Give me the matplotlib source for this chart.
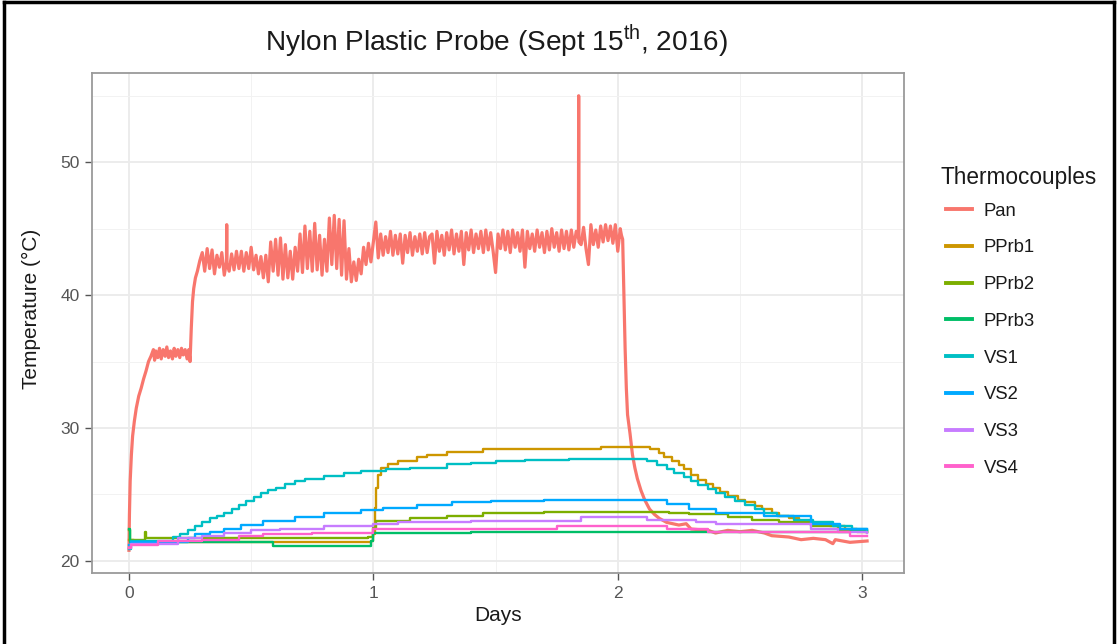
import matplotlib
matplotlib.use("Agg")
import matplotlib.pyplot as plt
from matplotlib.lines import Line2D

plt.rcParams['font.family'] = ['Liberation Sans', 'DejaVu Sans']
plt.rcParams['mathtext.fontset'] = 'custom'
plt.rcParams['mathtext.rm'] = 'Liberation Sans'

# (days, temperature degC)
pan = [
    (0.000, 20.8), (0.002, 23.5), (0.005, 26.0), (0.010, 28.0), (0.015, 29.4),
    (0.022, 30.5), (0.030, 31.5), (0.040, 32.4), (0.050, 33.0), (0.060, 33.7),
    (0.070, 34.3), (0.080, 35.0), (0.090, 35.4),
    (0.100, 35.9), (0.105, 35.1), (0.110, 35.8), (0.118, 35.3), (0.125, 36.0),
    (0.132, 35.2), (0.140, 35.9), (0.148, 35.4), (0.155, 36.1), (0.162, 35.3),
    (0.170, 35.8), (0.178, 35.2), (0.185, 36.0), (0.192, 35.4), (0.200, 35.9),
    (0.208, 35.3), (0.215, 36.0), (0.222, 35.5), (0.230, 35.9), (0.238, 35.2),
    (0.245, 35.9), (0.250, 35.0),
    (0.255, 37.5), (0.260, 39.5), (0.265, 40.5), (0.272, 41.3), (0.280, 41.8),
    (0.290, 42.6),
    (0.30, 43.2), (0.31, 41.8), (0.32, 43.5), (0.33, 42.0), (0.34, 43.4),
    (0.35, 41.6), (0.36, 43.0), (0.37, 42.1), (0.38, 43.2), (0.39, 41.5),
    (0.399, 42.5), (0.400, 45.3), (0.401, 42.4),
    (0.41, 41.8), (0.42, 43.1), (0.43, 41.9), (0.44, 43.3), (0.45, 42.0),
    (0.46, 43.3), (0.47, 41.8), (0.48, 43.2), (0.49, 42.0), (0.50, 43.6),
    (0.51, 41.9), (0.52, 43.0), (0.53, 41.6), (0.54, 42.9), (0.55, 41.3),
    (0.56, 43.0), (0.57, 41.0), (0.58, 44.0), (0.59, 41.8), (0.60, 44.2),
    (0.61, 41.5), (0.62, 44.3), (0.63, 41.2), (0.64, 43.8), (0.65, 41.3),
    (0.66, 43.3), (0.67, 41.2), (0.68, 43.6), (0.69, 41.8), (0.70, 44.6),
    (0.71, 41.7), (0.72, 45.2), (0.73, 42.0), (0.74, 44.8), (0.75, 41.8),
    (0.76, 45.4), (0.77, 41.9), (0.78, 44.5), (0.79, 41.5), (0.80, 44.2),
    (0.81, 41.8), (0.82, 45.8), (0.83, 42.3), (0.84, 46.0), (0.85, 42.0),
    (0.86, 45.7), (0.87, 41.5), (0.88, 45.6), (0.89, 41.2), (0.90, 43.5),
    (0.91, 41.0), (0.92, 42.5), (0.93, 41.1), (0.94, 42.7), (0.95, 41.6),
    (0.96, 43.6), (0.97, 42.3), (0.98, 43.9), (0.99, 42.5), (1.00, 44.0),
    (1.01, 45.5), (1.02, 42.8), (1.03, 44.6), (1.04, 43.0), (1.05, 44.4),
    (1.06, 43.2), (1.07, 44.8), (1.08, 43.0), (1.09, 44.5), (1.10, 43.1),
    (1.11, 44.6), (1.12, 42.4), (1.13, 44.5), (1.14, 43.2), (1.15, 44.7),
    (1.16, 43.0), (1.17, 44.4), (1.18, 43.3), (1.19, 44.6), (1.20, 43.1),
    (1.21, 44.7), (1.22, 43.2), (1.23, 44.4), (1.24, 44.6), (1.25, 42.4),
    (1.26, 44.8), (1.27, 43.3), (1.28, 44.5), (1.29, 43.0), (1.30, 44.7),
    (1.31, 43.4), (1.32, 44.9), (1.33, 43.1), (1.34, 44.6), (1.35, 43.3),
    (1.36, 44.8), (1.37, 42.3), (1.38, 44.7), (1.39, 43.4), (1.40, 44.9),
    (1.41, 43.2), (1.42, 44.6), (1.43, 43.5), (1.44, 44.8), (1.45, 43.2),
    (1.46, 44.9), (1.47, 43.4), (1.48, 44.7), (1.49, 43.3), (1.50, 41.7),
    (1.51, 44.6), (1.52, 43.5), (1.53, 44.9), (1.54, 43.4), (1.55, 44.8),
    (1.56, 43.2), (1.57, 44.9), (1.58, 43.6), (1.59, 44.7), (1.60, 43.3),
    (1.61, 44.9), (1.62, 42.1), (1.63, 44.8), (1.64, 43.5), (1.65, 44.6),
    (1.66, 43.3), (1.67, 44.9), (1.68, 43.6), (1.69, 44.7), (1.70, 43.2),
    (1.71, 44.8), (1.72, 43.4), (1.73, 45.0), (1.74, 43.6), (1.75, 44.7),
    (1.76, 43.3), (1.77, 44.9), (1.78, 43.5), (1.79, 44.8), (1.80, 43.4),
    (1.81, 44.9), (1.82, 43.6), (1.83, 44.8), (1.839, 44.3), (1.840, 55.0),
    (1.841, 44.0), (1.85, 43.8), (1.86, 45.1), (1.87, 43.5), (1.88, 42.3),
    (1.89, 45.3), (1.90, 43.8), (1.91, 44.9), (1.92, 43.6), (1.93, 45.2),
    (1.94, 44.0), (1.95, 45.3), (1.96, 44.1), (1.97, 45.2), (1.98, 43.9),
    (1.99, 45.3), (2.00, 43.3), (2.01, 45.0), (2.015, 44.5), (2.020, 44.2),
    (2.025, 40.0), (2.030, 36.0), (2.035, 33.0), (2.040, 31.0), (2.050, 29.6),
    (2.060, 28.0), (2.070, 27.0), (2.080, 26.2), (2.095, 25.3), (2.110, 24.6),
    (2.130, 23.9), (2.150, 23.5), (2.170, 23.2), (2.200, 22.9), (2.250, 22.7),
    (2.280, 22.8), (2.300, 22.4), (2.370, 22.3), (2.400, 22.1), (2.450, 22.3),
    (2.500, 22.2), (2.550, 22.3), (2.600, 22.1), (2.630, 21.9), (2.700, 21.8),
    (2.750, 21.6), (2.800, 21.7), (2.850, 21.6), (2.880, 21.3), (2.890, 21.6),
    (2.950, 21.4), (3.020, 21.5),
]

pprb1 = [
    (0.00, 21.6), (0.02, 21.4), (0.99, 21.5), (1.000, 22.0), (1.005, 24.0),
    (1.010, 25.5), (1.020, 26.5), (1.030, 27.0), (1.06, 27.3), (1.10, 27.5),
    (1.18, 27.8), (1.22, 28.0), (1.30, 28.2), (1.45, 28.4), (1.93, 28.6),
    (2.13, 28.4), (2.17, 28.1), (2.19, 27.8), (2.22, 27.5), (2.25, 27.2),
    (2.27, 26.9), (2.30, 26.5), (2.33, 26.1), (2.36, 25.8), (2.39, 25.5),
    (2.42, 25.2), (2.45, 24.9), (2.49, 24.6), (2.52, 24.4), (2.56, 24.1),
    (2.59, 23.9), (2.63, 23.6), (2.66, 23.4), (2.70, 23.2), (2.74, 23.0),
    (2.80, 22.8), (2.87, 22.6), (2.93, 22.4), (2.98, 22.2), (3.02, 22.2),
]

pprb2 = [
    (0.00, 22.3), (0.005, 21.6), (0.065, 22.2), (0.07, 21.7), (0.98, 21.8),
    (1.00, 22.5), (1.01, 23.0), (1.15, 23.2), (1.30, 23.4), (1.45, 23.6),
    (1.70, 23.7), (2.21, 23.6), (2.29, 23.5), (2.45, 23.3), (2.55, 23.1),
    (2.66, 22.9), (2.79, 22.6), (2.90, 22.3), (3.02, 22.2),
]

pprb3 = [
    (0.00, 22.4), (0.005, 21.4), (0.57, 21.4), (0.59, 21.1), (0.98, 21.1),
    (0.99, 21.5), (1.00, 22.1), (1.40, 22.2), (2.95, 22.3), (3.02, 22.2),
]

vs1 = [
    (0.00, 20.9), (0.01, 21.5), (0.18, 21.8), (0.21, 22.0), (0.24, 22.3),
    (0.27, 22.6), (0.30, 22.9), (0.33, 23.2), (0.36, 23.4), (0.39, 23.6),
    (0.42, 23.9), (0.45, 24.2), (0.48, 24.5), (0.51, 24.8), (0.54, 25.1),
    (0.57, 25.3), (0.60, 25.5), (0.64, 25.8), (0.68, 26.0), (0.72, 26.2),
    (0.80, 26.4), (0.88, 26.6), (0.95, 26.8), (1.05, 26.9), (1.15, 27.0),
    (1.30, 27.3), (1.40, 27.4), (1.50, 27.5), (1.62, 27.6), (1.80, 27.7),
    (2.12, 27.5), (2.16, 27.2), (2.20, 26.9), (2.23, 26.6), (2.27, 26.3),
    (2.30, 26.0), (2.33, 25.7), (2.37, 25.4), (2.40, 25.1), (2.44, 24.8),
    (2.48, 24.5), (2.52, 24.2), (2.56, 23.9), (2.60, 23.6), (2.65, 23.4),
    (2.72, 23.1), (2.80, 22.9), (2.88, 22.6), (2.96, 22.4), (3.02, 22.3),
]

vs2 = [
    (0.00, 21.2), (0.01, 21.4), (0.24, 21.7), (0.27, 22.0), (0.33, 22.2),
    (0.39, 22.4), (0.46, 22.7), (0.55, 23.0), (0.68, 23.3), (0.80, 23.6),
    (0.95, 23.8), (1.04, 24.0), (1.18, 24.2), (1.32, 24.4), (1.48, 24.5),
    (1.70, 24.6), (2.20, 24.3), (2.29, 23.9), (2.40, 23.6), (2.60, 23.4),
    (2.79, 22.8), (2.91, 22.4), (3.02, 22.4),
]

vs3 = [
    (0.00, 21.0), (0.01, 21.3), (0.20, 21.7), (0.30, 21.9), (0.39, 22.1),
    (0.50, 22.3), (0.62, 22.4), (0.80, 22.6), (1.00, 22.8), (1.10, 22.9),
    (1.40, 23.0), (1.85, 23.3), (2.12, 23.1), (2.32, 22.9), (2.40, 22.75),
    (2.79, 22.4), (2.90, 22.2), (3.02, 22.1),
]

vs4 = [
    (0.00, 21.0), (0.01, 21.2), (0.12, 21.5), (0.30, 21.6), (0.45, 21.9),
    (0.55, 22.0), (0.75, 22.1), (1.00, 22.4), (1.75, 22.6), (2.20, 22.4),
    (2.37, 22.2), (2.95, 21.9), (3.02, 21.9),
]

names = ['Pan', 'PPrb1', 'PPrb2', 'PPrb3', 'VS1', 'VS2', 'VS3', 'VS4']
series = [pan, pprb1, pprb2, pprb3, vs1, vs2, vs3, vs4]
colors = ['#F8766D', '#CD9600', '#7CAE00', '#00BE67',
          '#00BFC4', '#00A9FF', '#C77CFF', '#FF61CC']

fig = plt.figure(figsize=(11.17, 6.44), dpi=100)
ax = fig.add_axes([0.0824, 0.1102, 0.7269, 0.7764])

for name, data, col in zip(names, series, colors):
    d, t = zip(*data)
    if name == 'Pan':
        ax.plot(d, t, color=col, lw=2.3)
    else:
        ax.step(d, t, where='post', color=col, lw=1.7)

ax.set_xlim(-0.151, 3.171)
ax.set_ylim(19.09, 56.71)
ax.set_xticks([0, 1, 2, 3])
ax.set_xticks([0.5, 1.5, 2.5], minor=True)
ax.set_yticks([20, 30, 40, 50])
ax.set_yticks([25, 35, 45, 55], minor=True)
ax.grid(which='major', color='#EBEBEB', lw=1.3)
ax.grid(which='minor', color='#F2F2F2', lw=0.7)
ax.set_axisbelow(True)
ax.tick_params(which='major', length=5, width=1.0, color='#555555',
               labelcolor='#555555', labelsize=12.5, pad=4)
ax.tick_params(which='minor', length=0)
for sp in ax.spines.values():
    sp.set_color('#9a9a9a')
    sp.set_linewidth(1.3)

fig.text(0.4445, 0.936, r'Nylon Plastic Probe (Sept 15$^{\mathrm{th}}$, 2016)',
         ha='center', va='center', fontsize=20.2, color='#1a1a1a')
fig.text(0.4458, 0.045, 'Days', ha='center', va='center', fontsize=15, color='#1a1a1a')
fig.text(0.0286, 0.520, 'Temperature (°C)', ha='center', va='center',
         rotation=90, fontsize=15, color='#1a1a1a')

# legend: title placed on its own, keys below it
fig.text(940 / 1117, 1 - 177 / 644, 'Thermocouples', ha='left', va='center',
         fontsize=16.3, color='#1a1a1a')
handles = [Line2D([], [], color=c, lw=2.8) for c in colors]
leg = fig.legend(handles, names, loc='upper left', bbox_to_anchor=(0.840, 0.697),
                 frameon=False, fontsize=13.3, handlelength=1.4,
                 handletextpad=0.65, labelspacing=1.07, borderaxespad=0)
for txt in leg.get_texts():
    txt.set_color('#1a1a1a')

# black frame around the screenshot
for xs, ys in [([0.004, 0.004], [0, 0.997]), ([0.004, 0.997], [0.997, 0.997]),
               ([0.997, 0.997], [0, 0.997])]:
    fig.add_artist(Line2D(xs, ys, color='black', lw=2.5, transform=fig.transFigure))

fig.savefig('out.png', dpi=100)
